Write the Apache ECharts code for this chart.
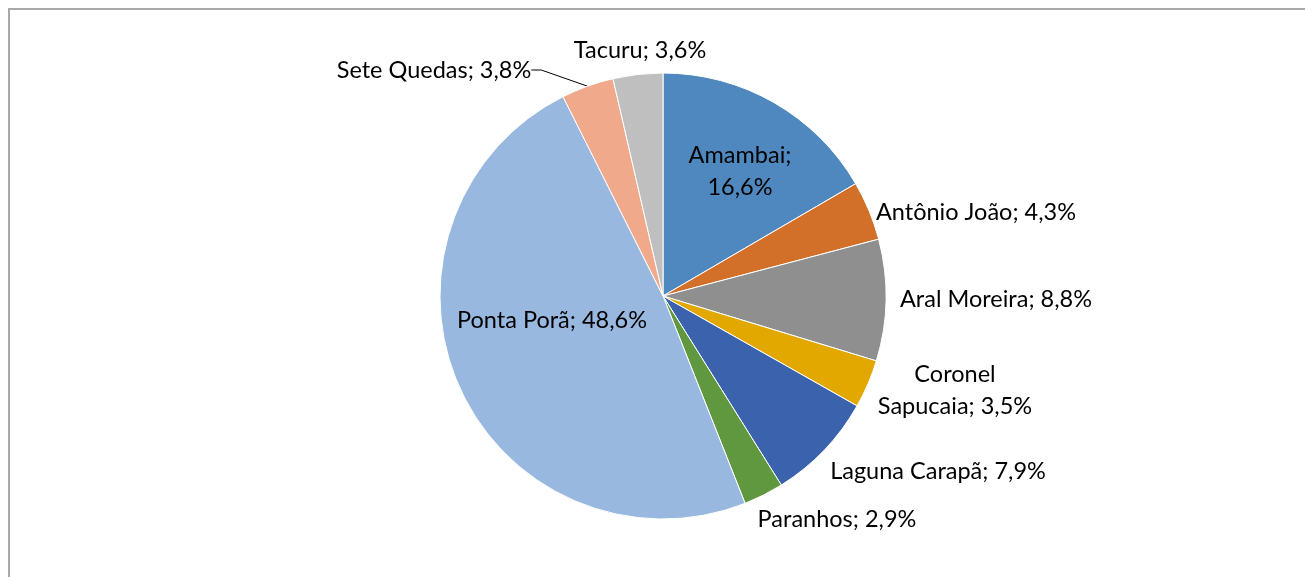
<!DOCTYPE html>
<html>
<head>
<meta charset="utf-8">
<script src="https://cdn.jsdelivr.net/npm/echarts@6/dist/echarts.min.js"></script>
<style>
  html, body { margin: 0; padding: 0; background: #fff; overflow: hidden; }
  #frame { position: absolute; left: 8px; top: 8px; width: 1400px; height: 700px;
           border-left: 2px solid #a8a8a8; border-top: 2px solid #a8a8a8; }
  #chart { position: absolute; left: 0; top: 0; width: 1305px; height: 577px; }
</style>
</head>
<body>
<div id="frame"></div>
<div id="chart"></div>
<script>
// municípios e participação (%)
const categories = ['Amambai', 'Antônio João', 'Aral Moreira', 'Coronel Sapucaia', 'Laguna Carapã',
  'Paranhos', 'Ponta Porã', 'Sete Quedas', 'Tacuru'];
const values = [16.6, 4.3, 8.8, 3.5, 7.9, 2.9, 48.6, 3.8, 3.6];
const colors = ['#4f88be', '#d2702a', '#8f8f8f', '#e3a800', '#3b63ad', '#5f983f', '#98b8e0', '#f1a98b', '#bfbfbf'];

// label placement (centre of each label box)
const labelSpots = [
  [740, 171], [976, 212], [996, 299], [955, 390], [938, 471],
  [837, 519], [552, 320], [434, 70], [640, 50]
];

const fmt = v => v.toFixed(1).replace('.', ',') + '%';

const chart = echarts.init(document.getElementById('chart'), null, { renderer: 'canvas' });

chart.setOption({
  animation: false,
  series: [{
    type: 'pie',
    center: [663, 296],
    radius: 223,
    startAngle: 90,
    clockwise: true,
    avoidLabelOverlap: false,
    itemStyle: { borderColor: '#fff', borderWidth: 1 },
    label: {
      show: true,
      position: 'outside',
      fontFamily: 'Lato',
      fontSize: 23.5,
      color: '#000',
      lineHeight: 32,
      align: 'center',
      formatter: p => {
        const v = fmt(p.value);
        if (p.name === 'Amambai') return p.name + ';\n' + v;
        if (p.name === 'Coronel Sapucaia') return 'Coronel\nSapucaia; ' + v;
        return p.name + '; ' + v;
      }
    },
    labelLine: { show: false },
    labelLayout: p => {
      const s = labelSpots[p.dataIndex];
      return { x: s[0], y: s[1], align: 'center', verticalAlign: 'middle' };
    },
    data: categories.map((c, i) => {
      const d = { name: c, value: values[i], itemStyle: { color: colors[i] } };
      if (c === 'Sete Quedas') {
        d.labelLine = { show: true, length: 10, length2: 10, lineStyle: { color: '#000', width: 1 } };
      }
      return d;
    })
  }]
});
</script>
</body>
</html>
